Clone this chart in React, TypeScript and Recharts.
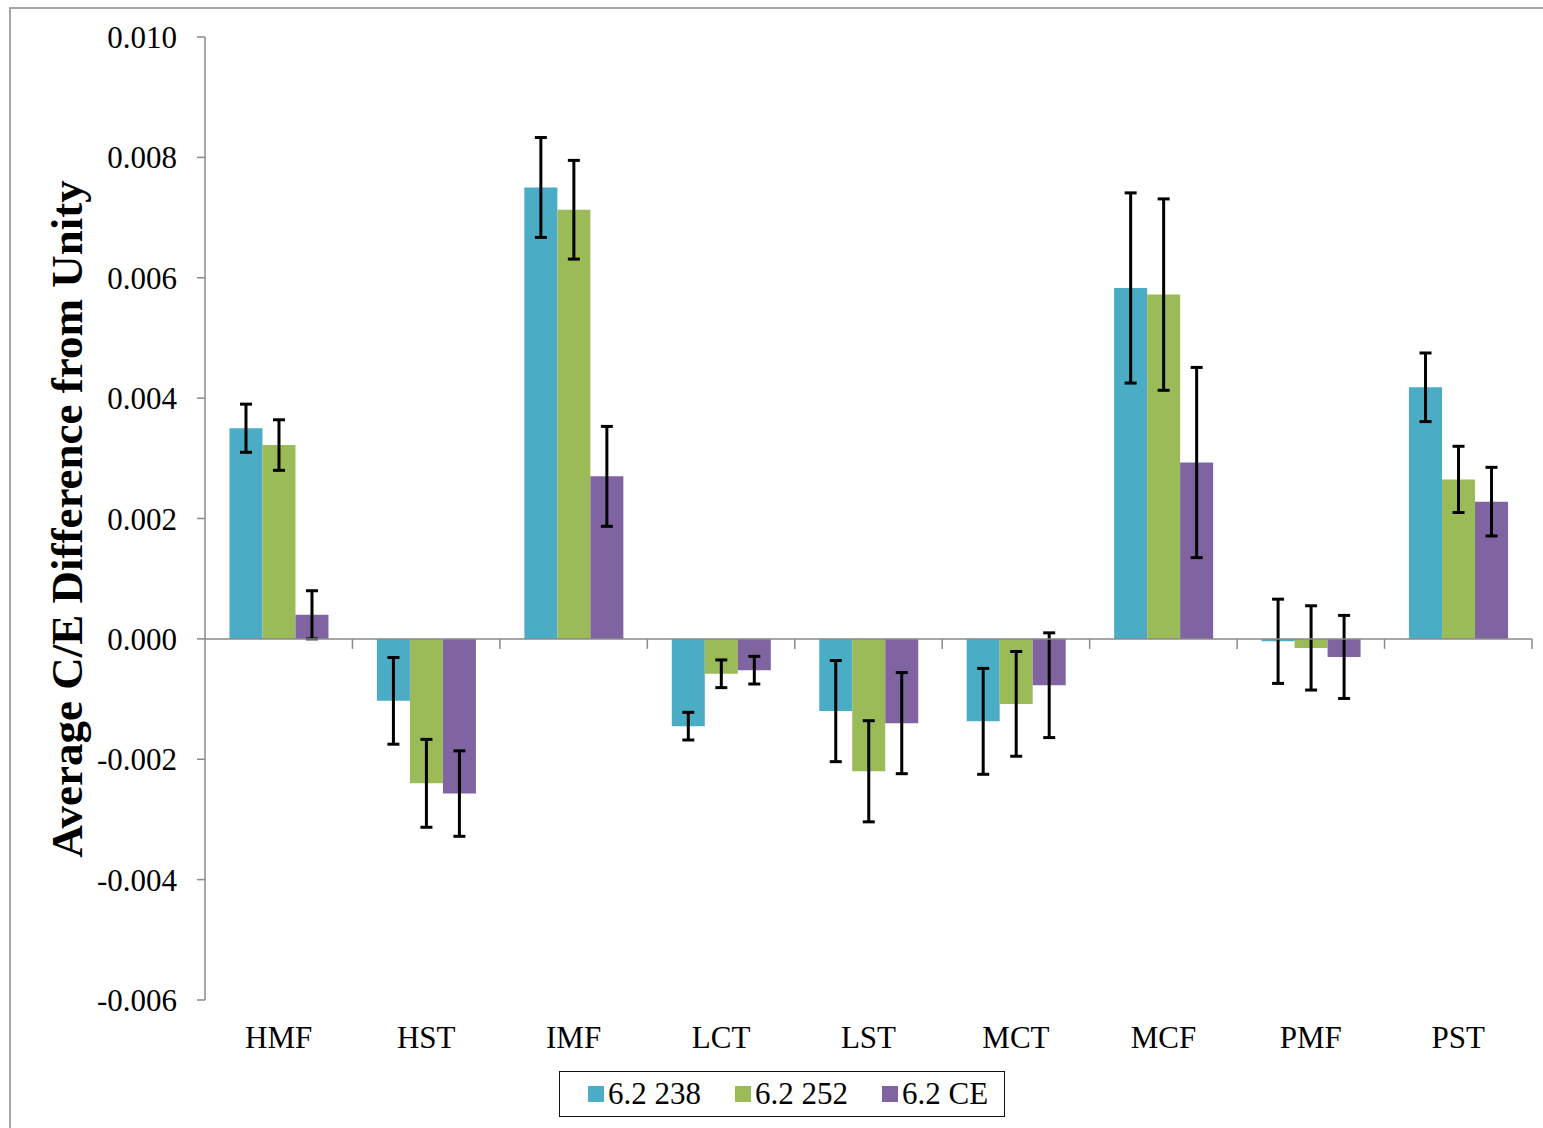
import { BarChart, Bar, XAxis, YAxis, ErrorBar, ReferenceLine, Legend } from 'recharts'

const CATEGORIES = ['HMF', 'HST', 'IMF', 'LCT', 'LST', 'MCT', 'MCF', 'PMF', 'PST']

const V238 = [0.0035, -0.00103, 0.0075, -0.00145, -0.0012, -0.00137, 0.00583, -0.00004, 0.00418]
const V252 = [0.00322, -0.0024, 0.00713, -0.00058, -0.0022, -0.00108, 0.00572, -0.00015, 0.00265]
const VCE = [0.0004, -0.00257, 0.0027, -0.00052, -0.0014, -0.00077, 0.00293, -0.0003, 0.00228]

const E238 = [0.0004, 0.00072, 0.00083, 0.00023, 0.00084, 0.00088, 0.00158, 0.0007, 0.00057]
const E252 = [0.00042, 0.00073, 0.00082, 0.00023, 0.00084, 0.00087, 0.00159, 0.0007, 0.00055]
const ECE = [0.0004, 0.00071, 0.00083, 0.00023, 0.00084, 0.00087, 0.00158, 0.00069, 0.00057]

const Y_TICKS = [-0.006, -0.004, -0.002, 0, 0.002, 0.004, 0.006, 0.008, 0.01]

const SERIES = [
  { key: 'v238', err: 'e238', name: '6.2 238', color: '#4BACC6' },
  { key: 'v252', err: 'e252', name: '6.2 252', color: '#9BBB59' },
  { key: 'vce', err: 'ece', name: '6.2 CE', color: '#8064A2' },
]

const data = CATEGORIES.map((c, i) => ({
  cat: c,
  v238: V238[i],
  v252: V252[i],
  vce: VCE[i],
  e238: E238[i],
  e252: E252[i],
  ece: ECE[i],
}))

const FONT = '"Liberation Serif", "Times New Roman", serif'
const AXIS = '#8a8a8a'

// zero line with the little category-boundary ticks hanging below it
function ZeroLine(p: any) {
  const { x1, y1, x2 } = p
  const step = (x2 - x1) / CATEGORIES.length
  return (
    <g>
      <line x1={x1} y1={y1} x2={x2} y2={y1} stroke={AXIS} strokeWidth={1.5} />
      {CATEGORIES.map((_, i) => (
        <line key={i} x1={x1 + step * (i + 1)} y1={y1} x2={x1 + step * (i + 1)} y2={y1 + 10} stroke={AXIS} strokeWidth={1.5} />
      ))}
    </g>
  )
}

function LegendBox() {
  return (
    <div
      style={{
        border: '1.5px solid #111',
        width: 446,
        height: 46,
        display: 'flex',
        alignItems: 'center',
        paddingLeft: 28,
        boxSizing: 'border-box',
        fontFamily: FONT,
        fontSize: 31,
        color: '#000',
        whiteSpace: 'nowrap',
      }}
    >
      {SERIES.map((s) => (
        <div key={s.key} style={{ display: 'flex', alignItems: 'center', marginRight: 34, flexShrink: 0 }}>
          <span style={{ width: 16, height: 16, background: s.color, display: 'inline-block', marginRight: 4 }} />
          <span style={{ fontFamily: FONT }}>{s.name}</span>
        </div>
      ))}
    </div>
  )
}

export default function App() {
  return (
    <div style={{ position: 'absolute', left: 0, top: 0, width: 1543, height: 1128, overflow: 'hidden', background: '#fff' }}>
      <div style={{ position: 'absolute', left: 9, top: 7, width: 1600, height: 1200, border: '2px solid #a6a6a6' }} />
      <BarChart
        width={1543}
        height={1128}
        data={data}
        margin={{ top: 37, right: 11, bottom: 98, left: 0 }}
        barCategoryGap="16.6%"
        barGap={0}
        style={{ position: 'absolute', left: 0, top: 0 }}
      >
        <XAxis
          dataKey="cat"
          height={30}
          axisLine={false}
          tickLine={false}
          tickSize={0}
          tickMargin={26}
          interval={0}
          tick={{ fontFamily: FONT, fontSize: 31, fill: '#000' }}
        />
        <YAxis
          width={205}
          domain={[-0.006, 0.01]}
          ticks={Y_TICKS}
          interval={0}
          tickFormatter={(v: number) => v.toFixed(3)}
          axisLine={{ stroke: AXIS, strokeWidth: 1.5 }}
          tickLine={{ stroke: AXIS, strokeWidth: 1.5 }}
          tickSize={8}
          tickMargin={20}
          tick={{ fontFamily: FONT, fontSize: 31, fill: '#000' }}
          label={{
            content: () => (
              <text
                x={67}
                y={519}
                transform="rotate(-90 67 519)"
                textAnchor="middle"
                dominantBaseline="central"
                fontFamily={FONT}
                fontWeight="bold"
                fontSize={45}
                fill="#000"
              >
                Average C/E Difference from Unity
              </text>
            ),
          }}
        />
        {SERIES.map((s) => (
          <Bar key={s.key} dataKey={s.key} name={s.name} fill={s.color} isAnimationActive={false}>
            <ErrorBar dataKey={s.err} width={6} stroke="#000" strokeWidth={3} direction="y" />
          </Bar>
        ))}
        <ReferenceLine y={0} shape={ZeroLine} />
        <Legend
          layout="horizontal"
          verticalAlign="middle"
          align="center"
          content={() => <LegendBox />}
          wrapperStyle={{ position: 'absolute', left: 559, top: 1071, width: 446, height: 46, bottom: 'auto' }}
        />
      </BarChart>
    </div>
  )
}
